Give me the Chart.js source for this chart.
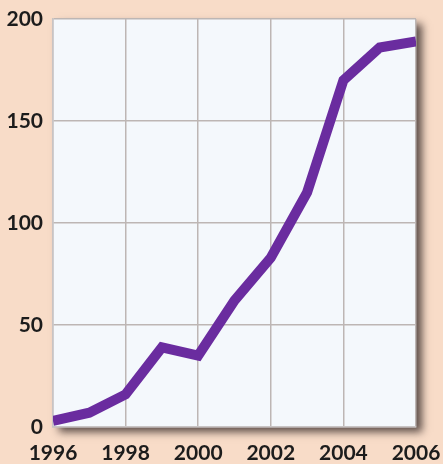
<!DOCTYPE html>
<html>
<head>
<meta charset="utf-8">
<script src="https://cdn.jsdelivr.net/npm/chart.js@4/dist/chart.umd.min.js"></script>
<style>
  html, body { margin: 0; padding: 0; background: #f8dcc8; }
  #wrap { width: 443px; height: 464px; }
</style>
</head>
<body>
<div id="wrap"><canvas id="growth" width="443" height="464"></canvas></div>
<script>
const years = [1996, 1997, 1998, 1999, 2000, 2001, 2002, 2003, 2004, 2005, 2006];
const values = [3, 7, 16, 39, 35, 62, 83, 115, 170, 186, 189];
const yTicks = [0, 50, 100, 150, 200];
const xTicks = [1996, 1998, 2000, 2002, 2004, 2006];

// peach page, shadowed pale plot panel
const panelPlugin = {
    id: 'panel',
    beforeDraw(chart) {
        const ctx = chart.ctx;
        const a = chart.chartArea;
        ctx.save();
        ctx.fillStyle = '#f8dcc8';
        ctx.fillRect(0, 0, chart.width, chart.height);
        ctx.shadowColor = 'rgba(40,30,30,0.75)';
        ctx.shadowBlur = 8;
        ctx.shadowOffsetX = 6;
        ctx.shadowOffsetY = 5;
        ctx.fillStyle = '#f4f8fc';
        ctx.fillRect(a.left, a.top, a.right - a.left, a.bottom - a.top);
        ctx.restore();
    }
};

new Chart(document.getElementById('growth'), {
    type: 'line',
    data: {
        datasets: [{
            data: years.map((y, i) => ({ x: y, y: values[i] })),
            borderColor: '#6a2c9f',
            borderWidth: 10,
            borderJoinStyle: 'miter',
            pointRadius: 0,
            tension: 0,
            fill: false
        }]
    },
    options: {
        responsive: false,
        animation: false,
        layout: { padding: { top: 19, right: 27, left: 0, bottom: 0 } },
        plugins: {
            legend: { display: false },
            tooltip: { enabled: false }
        },
        scales: {
            x: {
                type: 'linear',
                min: 1996,
                max: 2006,
                afterBuildTicks: s => { s.ticks = xTicks.map(v => ({ value: v })); },
                afterFit: s => { s.height = 37; s.paddingLeft = 0; s.paddingRight = 0; },
                grid: { color: '#bdb6b4', lineWidth: 1.5, drawTicks: false },
                border: { color: '#c8c4c4', width: 1.5 },
                ticks: {
                    padding: 14,
                    color: '#1c1c1c',
                    font: { family: 'Lato', size: 21, weight: 'bold' },
                    callback: v => String(v),
                    maxRotation: 0
                }
            },
            y: {
                min: 0,
                max: 200,
                afterBuildTicks: s => { s.ticks = yTicks.map(v => ({ value: v })); },
                afterFit: s => { s.width = 53; s.paddingTop = 0; s.paddingBottom = 0; },
                grid: { color: '#bdb6b4', lineWidth: 1.5, drawTicks: false },
                border: { color: '#c8c4c4', width: 1.5 },
                ticks: {
                    padding: 10,
                    color: '#1c1c1c',
                    font: { family: 'Lato', size: 21, weight: 'bold' }
                }
            }
        }
    },
    plugins: [panelPlugin]
});
</script>
</body>
</html>
